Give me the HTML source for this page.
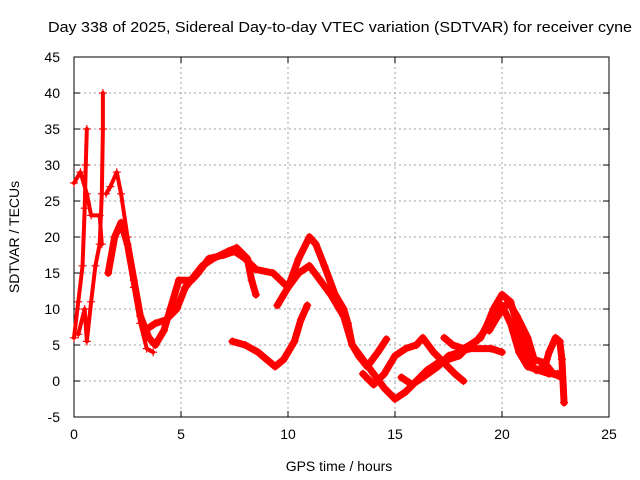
<!DOCTYPE html>
<html><head><meta charset="utf-8"><style>
body{margin:0;background:#fff;}
svg{display:block;font-family:"Liberation Sans",sans-serif;}
</style></head><body>
<svg id="chart" width="640" height="480">
<text x="340" y="32" text-anchor="middle" font-size="15" textLength="584" lengthAdjust="spacingAndGlyphs">Day 338 of 2025, Sidereal Day-to-day VTEC variation (SDTVAR) for receiver cyne</text>
<g id="grid"></g>
<g id="axes"></g>
<g id="series"></g>
<text x="339" y="471" text-anchor="middle" font-size="14">GPS time / hours</text>
<text x="0" y="0" transform="translate(19,237) rotate(-90)" text-anchor="middle" font-size="14">SDTVAR / TECUs</text>
</svg>
<script>
const xTicks=[0,5,10,15,20,25];
const yTicks=[-5,0,5,10,15,20,25,30,35,40,45];
const trace1=[[0,27.5],[0.3,29],[0.6,26],[0.8,23],[1.2,23],[1.3,19]];
const trace2=[[0,6],[0.2,11],[0.4,16],[0.5,24],[0.55,30],[0.6,35]];
const trace3=[[0.2,6.5],[0.5,10],[0.6,5.5],[0.8,11],[1.0,16],[1.2,19],[1.3,26],[1.35,35],[1.35,40]];
const trace4=[[1.5,26],[1.7,27],[2.0,29],[2.2,26],[2.5,20],[2.8,13],[3.1,8],[3.4,4.5],[3.7,4]];
const trace5=[[1.6,15],[1.9,20],[2.2,22],[2.5,19],[2.8,14],[3.1,9],[3.5,6],[3.8,5],[4.2,7],[4.5,10],[4.9,14],[5.5,14],[5.8,15],[6.3,17],[7,17.5],[7.5,18],[8,17],[8.5,15.5],[9.3,15],[10,13],[10.5,15],[11,16],[11.5,14],[12,12],[12.6,9],[13,5],[13.5,3],[14,1],[14.5,-1],[15,-2.5],[15.5,-1.5],[16,0],[16.5,1.5],[17,2.5],[17.5,3],[18,3.5],[18.5,5],[19,6],[19.5,9],[20,10.5],[20.4,8],[20.8,4],[21.2,2],[21.7,1.5],[22.2,1],[22.6,1]];
const trace6=[[3.3,7],[3.8,8],[4.3,8.5],[4.8,10],[5.2,13],[5.6,14.5],[6,16],[6.5,17],[7.2,18],[7.6,18.5],[8.1,17],[8.3,14],[8.5,12]];
const trace7=[[9.5,10.5],[10,13],[10.5,17],[11,20],[11.3,19],[11.7,16],[12.2,12],[12.6,10],[12.8,8],[13,5],[13.3,3.5],[13.7,2],[14.2,4],[14.6,5.8]];
const trace8=[[7.4,5.5],[8,5],[8.6,4],[9,3],[9.4,2],[9.8,3],[10.3,5.5],[10.6,8.5],[10.9,10.5]];
const trace9=[[13.5,1],[14,-0.5],[14.5,1],[15,3.5],[15.5,4.5],[16,5],[16.3,6],[16.8,4],[17.3,2.5],[17.8,1],[18.2,0]];
const trace10=[[15.3,0.5],[15.8,-0.5],[16.3,0.5],[17,2],[17.5,3.5],[18,4],[18.5,4.5],[19.5,4.5],[20,4]];
const trace11=[[17.3,6],[17.7,5],[18.2,4.5],[18.8,5.5],[19.2,7],[19.6,10],[20,12],[20.4,11],[20.8,7],[21.2,3],[21.6,1.5],[22,2],[22.2,4],[22.5,6],[22.7,5.5],[22.8,3],[22.9,-3]];
const trace12=[[19.4,7],[19.8,9],[20.3,11],[20.7,9],[21.2,6],[21.5,3],[22,2.5],[22.4,1],[22.8,0.5]];
const traces=[trace1,trace2,trace3,trace4,trace5,trace6,trace7,trace8,trace9,trace10,trace11,trace12];

const X0=74,X1=609,Y0=417,Y1=57,XMIN=0,XMAX=25,YMIN=-5,YMAX=45;
const sx=v=>X0+(v-XMIN)/(XMAX-XMIN)*(X1-X0);
const sy=v=>Y0-(v-YMIN)/(YMAX-YMIN)*(Y0-Y1);
const NS="http://www.w3.org/2000/svg";
function mk(t,a,p){const e=document.createElementNS(NS,t);for(const k in a)e.setAttribute(k,a[k]);p.appendChild(e);return e;}
const grid=document.getElementById('grid'),axes=document.getElementById('axes'),ser=document.getElementById('series');
xTicks.forEach(t=>{
  const x=sx(t);
  if(t>XMIN&&t<XMAX){const g=mk('line',{x1:x,x2:x,y1:Y1,y2:Y0,stroke:'#a0a0a0','stroke-dasharray':'2,3'},grid);
  
  }
  mk('line',{x1:x,x2:x,y1:Y0,y2:Y0-6,stroke:'#000'},axes);
  mk('line',{x1:x,x2:x,y1:Y1,y2:Y1+6,stroke:'#000'},axes);
  const l=mk('text',{x:x,y:Y0+22,'text-anchor':'middle','font-size':'14'},axes);l.textContent=t;
  
  
});
yTicks.forEach(t=>{
  const y=sy(t);
  if(t>YMIN&&t<YMAX){const g=mk('line',{x1:X0,x2:X1,y1:y,y2:y,stroke:'#a0a0a0','stroke-dasharray':'2,3'},grid);
  
  }
  mk('line',{x1:X0,x2:X0+6,y1:y,y2:y,stroke:'#000'},axes);
  mk('line',{x1:X1,x2:X1-6,y1:y,y2:y,stroke:'#000'},axes);
  const l=mk('text',{x:X0-14,y:y+5,'text-anchor':'end','font-size':'14'},axes);l.textContent=t;
  
  
});
const fr=mk('rect',{x:X0,y:Y1,width:X1-X0,height:Y0-Y1,fill:'none',stroke:'#000'},axes);


traces.forEach((tr,i)=>{
  const pl=mk('polyline',{points:tr.map(p=>sx(p[0])+','+sy(p[1])).join(' '),fill:'none',stroke:'#ff0000','stroke-width':i<4?4:7,'stroke-linejoin':'round','stroke-linecap':'round'},ser);
  
  
  tr.forEach(p=>{
    const x=sx(p[0]),y=sy(p[1]);
    const m=mk('path',{d:`M${x-4},${y}H${x+4}M${x},${y-4}V${y+4}`,stroke:'#ff0000','stroke-width':1.2},ser);
    
    
  });
});
</script>
</body></html>
